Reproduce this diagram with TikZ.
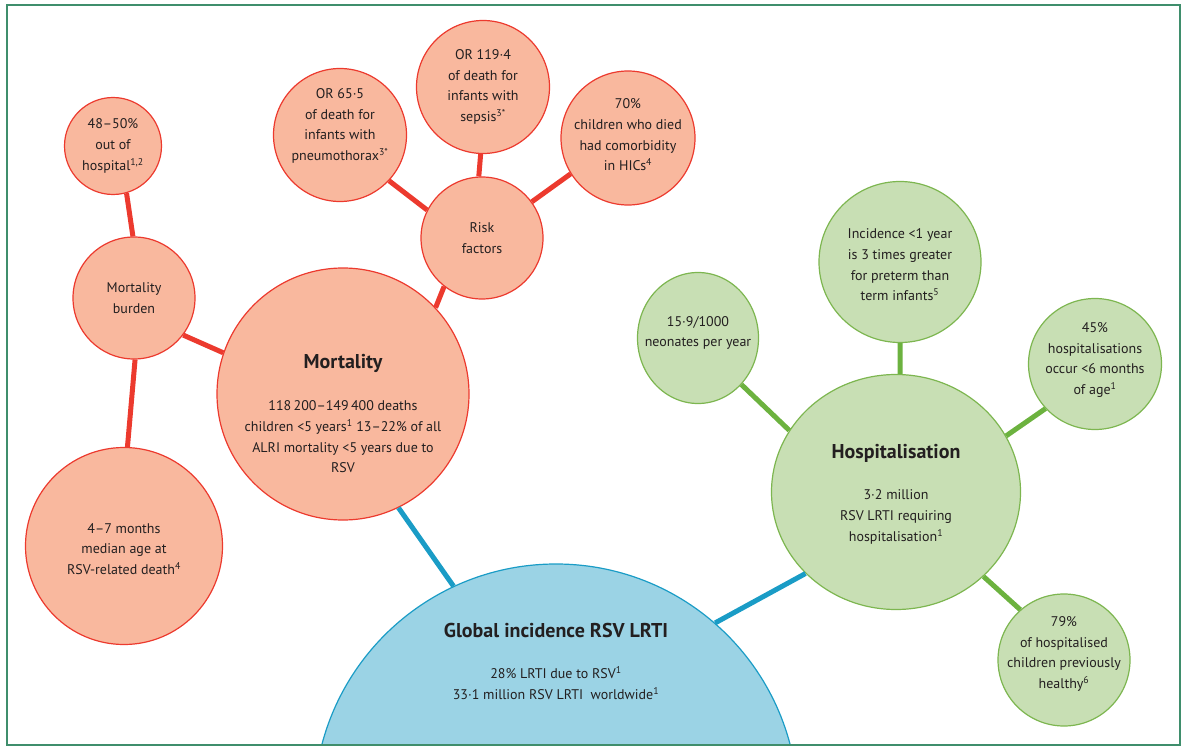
\documentclass[tikz,border=0pt]{standalone}
\usepackage{fontspec}
\setmainfont{PT Sans}
\usetikzlibrary{shapes.geometric}
\definecolor{salmon}{HTML}{F9B89E}
\definecolor{redline}{HTML}{EC3A2E}
\definecolor{greenfill}{HTML}{C8DFB4}
\definecolor{greenedge}{HTML}{7DB650}
\definecolor{greenline}{HTML}{6CB23F}
\definecolor{bluefill}{HTML}{9BD3E5}
\definecolor{blueline}{HTML}{1A9CC6}
\definecolor{framecol}{HTML}{3F8E6C}
\definecolor{ink}{HTML}{231F20}
\begin{document}
\begin{tikzpicture}[x=1pt, y=-1pt,
    redball/.style={circle, draw=redline, line width=1.2pt, fill=salmon, inner sep=0pt},
    greenball/.style={ellipse, draw=greenedge, line width=1.2pt, fill=greenfill, inner sep=0pt},
    blueball/.style={circle, draw=blueline, line width=1.2pt, fill=bluefill, inner sep=0pt},
    txt/.style={align=center, text=ink, font=\fontsize{14}{20.7}\selectfont},
    head/.style={align=center, text=ink, font=\fontsize{20}{24}\selectfont\bfseries},
    redlink/.style={draw=redline, line width=5pt},
    greenlink/.style={draw=greenline, line width=5pt},
    bluelink/.style={draw=blueline, line width=5pt}]
    \useasboundingbox (0,0) rectangle (1183,746);
    \clip (0,0) rectangle (1183,746);

    % Global incidence
    \node[blueball, minimum size=484,
      label={[head, yshift=176pt]center:Global incidence RSV LRTI},
      label={[txt, yshift=123pt]center:{28\% LRTI due to RSV\textsuperscript{1}\\33·1 million RSV LRTI\ \ worldwide\textsuperscript{1}}}]
      (glob) at (556,806) {};

    % Mortality side
    \node[redball, minimum size=252,
      label={[head, yshift=31pt]center:Mortality},
      label={[txt, yshift=-43pt]center:{118\,200–149\,400 deaths\\children <5 years\textsuperscript{1} 13–22\% of all\\ALRI mortality <5 years due to\\RSV}}]
      (mort) at (343,394) {};
    \node[redball, minimum size=122, label={[txt]center:{Mortality\\burden}}] (burden) at (134,298) {};
    \node[redball, minimum size=97, label={[txt]center:{48–50\%\\out of\\hospital\textsuperscript{1,2}}}] (outhosp) at (113,146) {};
    \node[redball, minimum size=197, label={[txt, yshift=-3pt]center:{4–7 months\\median age at\\RSV-related death\textsuperscript{4}}}] (medage) at (124,546) {};
    \node[redball, minimum size=122, label={[txt]center:{Risk\\factors}}] (risk) at (482,238) {};
    \node[redball, minimum size=133, label={[txt, yshift=9pt]center:{OR 65·5\\of death for\\infants with\\pneumothorax\textsuperscript{3*}}}] (pneumo) at (340,135) {};
    \node[redball, minimum size=133, label={[txt]center:{OR 119·4\\of death for\\infants with\\sepsis\textsuperscript{3*}}}] (sepsis) at (483,87) {};
    \node[redball, minimum size=134, label={[txt, yshift=3pt]center:{70\%\\children who died\\had comorbidity\\in HICs\textsuperscript{4}}}] (comorb) at (628,138) {};

    % Hospitalisation side
    \node[greenball, minimum width=249, minimum height=235,
      label={[head, yshift=39pt]center:Hospitalisation},
      label={[txt, yshift=-25pt]center:{3·2 million\\RSV LRTI requiring\\hospitalisation\textsuperscript{1}}}]
      (hosp) at (896,492) {};
    \node[greenball, minimum width=121, minimum height=131, label={[txt, yshift=5pt]center:{15·9/1000\\neonates per year}}] (neonates) at (698,338) {};
    \node[greenball, minimum width=162, minimum height=161, label={[txt, yshift=-3pt]center:{Incidence <1 year\\is 3 times greater\\for preterm than\\term infants\textsuperscript{5}}}] (preterm) at (900,262) {};
    \node[greenball, minimum width=133, minimum height=131, label={[txt, yshift=4pt]center:{45\%\\hospitalisations\\occur <6 months\\of age\textsuperscript{1}}}] (sixmonths) at (1095,364) {};
    \node[greenball, minimum size=132, label={[txt, yshift=6pt]center:{79\%\\of hospitalised\\children previously\\healthy\textsuperscript{6}}}] (healthy) at (1064,660) {};

    % Links
    \draw[redlink] (outhosp.-74) -- (burden.91);
    \draw[redlink] (burden.-89) -- (medage.88);
    \draw[redlink] (burden.-37) -- (mort.161);
    \draw[redlink] (mort.43) -- (risk.232);
    \draw[redlink] (risk.153) -- (pneumo.-43);
    \draw[redlink] (risk.93) -- (sepsis.-92);
    \draw[redlink] (risk.36) -- (comorb.212);
    \draw[bluelink] (mort.-64) -- (glob.115);
    \draw[bluelink] (glob.49) -- (hosp.222);
    \draw[greenlink] (hosp.150) -- (neonates.-47);
    \draw[greenlink] (hosp.88) -- (preterm.-90);
    \draw[greenlink] (hosp.27) -- (sixmonths.222);
    \draw[greenlink] (hosp.-44) -- (healthy.131);

    % Frame
    \draw[framecol, line width=1.3pt] (7,5) rectangle (1180,745);
\end{tikzpicture}
\end{document}
